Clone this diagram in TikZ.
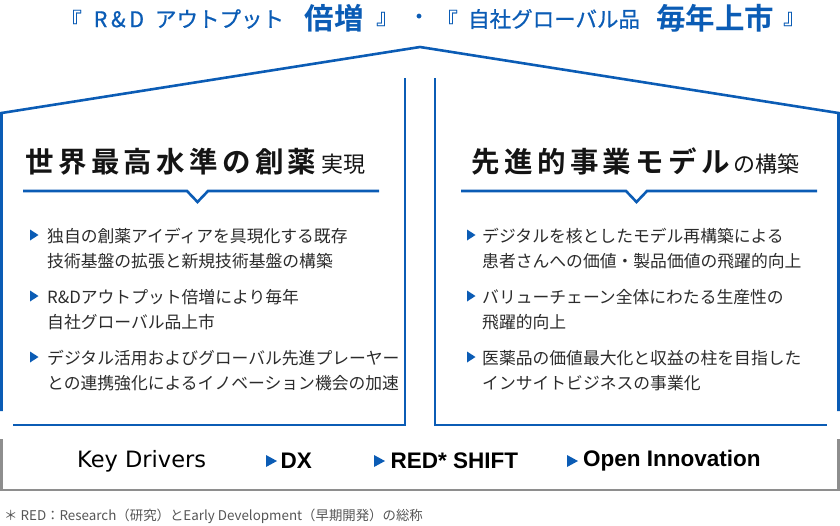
\documentclass[tikz,border=0pt]{standalone}
\usepackage{fontspec}
\usepackage{xcolor}
\usepackage{tikz}
\setmainfont{Noto Sans CJK JP}[BoldFont={Noto Sans CJK JP Bold}]
\newfontfamily\headfont{Noto Sans CJK JP Bold}[LetterSpace=15]
\newfontfamily\titlefont{Noto Sans CJK JP}[FakeBold=0.8]
\newfontfamily\keyfont{DejaVu Sans}
\newfontfamily\drivefont{Liberation Sans Bold}
\definecolor{roofblue}{HTML}{0B5CB5}
\definecolor{bargrey}{HTML}{8E8E8E}
\definecolor{bodytext}{HTML}{2B2B2B}
\definecolor{notegrey}{HTML}{555555}

\begin{document}
\begin{tikzpicture}[x=1pt,y=1pt]
\tikzstyle{every node}+=[inner sep=0pt]
\tikzstyle{blueline}=[draw=roofblue, line width=2.6pt]
\tikzstyle{greyline}=[draw=bargrey, line width=2.8pt]
\tikzstyle{pointer}=[fill=roofblue]
\tikzstyle{titlesmall}=[anchor=west, text=roofblue, font=\titlefont\fontsize{21.5}{24}\selectfont]
\tikzstyle{titlelarge}=[anchor=west, text=roofblue, font=\bfseries\fontsize{29.5}{30}\selectfont]
\tikzstyle{bodylines}=[anchor=west, align=left, text=bodytext, font=\fontsize{16.8}{25}\selectfont]
\tikzstyle{drivername}=[anchor=west, text=black, font=\drivefont\fontsize{22.5}{24}\selectfont]
\useasboundingbox (0,0) rectangle (840,-525);
\draw [blueline] (1.5,-411) -- (1.5,-113) -- (420,-47) -- (838.5,-113) -- (838.5,-411);
\draw [blueline] (405,-78) -- (405,-425) -- (13,-425);
\draw [blueline] (435,-78) -- (435,-425) -- (827,-425);
\draw [greyline] (1.5,-439) -- (1.5,-490) -- (838.5,-490) -- (838.5,-439);
\node [titlesmall, anchor=east] (openone) at (82,-19) {『};
\node [titlesmall] (rdout) at (93.5,-19) {{\addfontfeatures{LetterSpace=17}R\&D}\hspace{11pt}アウトプット};
\node [titlelarge] (double) at (304.5,-18) {倍増};
\node [titlesmall] (closeone) at (376,-19) {』};
\node [titlesmall, anchor=center] (middot) at (419,-19) {・};
\node [titlesmall, anchor=east] (opentwo) at (458,-19) {『};
\node [titlesmall] (inhouse) at (468,-19) {自社グローバル品};
\node [titlelarge] (yearly) at (656,-18) {毎年上市};
\node [titlesmall] (closetwo) at (783,-19) {』};
\node [anchor=west, text=black!92] (lefthead) at (25.5,-161.5) {{\headfont\fontsize{28.5}{30}\selectfont 世界最高水準の創薬}\hspace{5pt}{\fontsize{22}{23}\selectfont 実現}};
\draw [blueline] (23,-191) -- (187,-191) -- (197.5,-202) -- (208,-191) -- (379,-191);
\node [anchor=west, text=black!92] (righthead) at (471.5,-161.5) {{\headfont\fontsize{28.5}{30}\selectfont 先進的事業モデル}\hspace{4pt}{\fontsize{22}{23}\selectfont の構築}};
\draw [blueline] (461,-191) -- (626,-191) -- (636.5,-202) -- (647,-191) -- (817,-191);
\fill [pointer] (30,-229.5) -- (38.5,-235) -- (30,-240.5) -- cycle;
\node [bodylines] (leftone) at (47,-248.5) {独自の創薬アイディアを具現化する既存\\技術基盤の拡張と新規技術基盤の構築};
\fill [pointer] (30,-290.5) -- (38.5,-296) -- (30,-301.5) -- cycle;
\node [bodylines] (lefttwo) at (47,-309.5) {R\&Dアウトプット倍増により毎年\\自社グローバル品上市};
\fill [pointer] (30,-351.5) -- (38.5,-357) -- (30,-362.5) -- cycle;
\node [bodylines] (leftthree) at (47,-370.5) {デジタル活用およびグローバル先進プレーヤー\\との連携強化によるイノベーション機会の加速};
\fill [pointer] (467,-229.5) -- (475.5,-235) -- (467,-240.5) -- cycle;
\node [bodylines] (rightone) at (482,-248.5) {デジタルを核としたモデル再構築による\\患者さんへの価値・製品価値の飛躍的向上};
\fill [pointer] (467,-290.5) -- (475.5,-296) -- (467,-301.5) -- cycle;
\node [bodylines] (righttwo) at (482,-309.5) {バリューチェーン全体にわたる生産性の\\飛躍的向上};
\fill [pointer] (467,-351.5) -- (475.5,-357) -- (467,-362.5) -- cycle;
\node [bodylines] (rightthree) at (482,-370.5) {医薬品の価値最大化と収益の柱を目指した\\インサイトビジネスの事業化};
\node [anchor=west, text=black, font=\keyfont\fontsize{22.5}{24}\selectfont] (keydrivers) at (77,-461) {Key Drivers};
\fill [pointer] (266,-455) -- (277,-461) -- (266,-467) -- cycle;
\node [drivername] (dx) at (280.5,-461) {DX};
\fill [pointer] (374,-455) -- (385,-461) -- (374,-467) -- cycle;
\node [drivername] (redshift) at (390.5,-461) {RED* SHIFT};
\fill [pointer] (567,-455) -- (578,-461) -- (567,-467) -- cycle;
\node [drivername] (openinno) at (583,-461) {Open Innovation};
\node [anchor=west, text=notegrey, font=\fontsize{13.4}{15}\selectfont] (footnote) at (4,-516.5) {＊ RED：Research（研究）とEarly Development（早期開発）の総称};
\end{tikzpicture}
\end{document}
